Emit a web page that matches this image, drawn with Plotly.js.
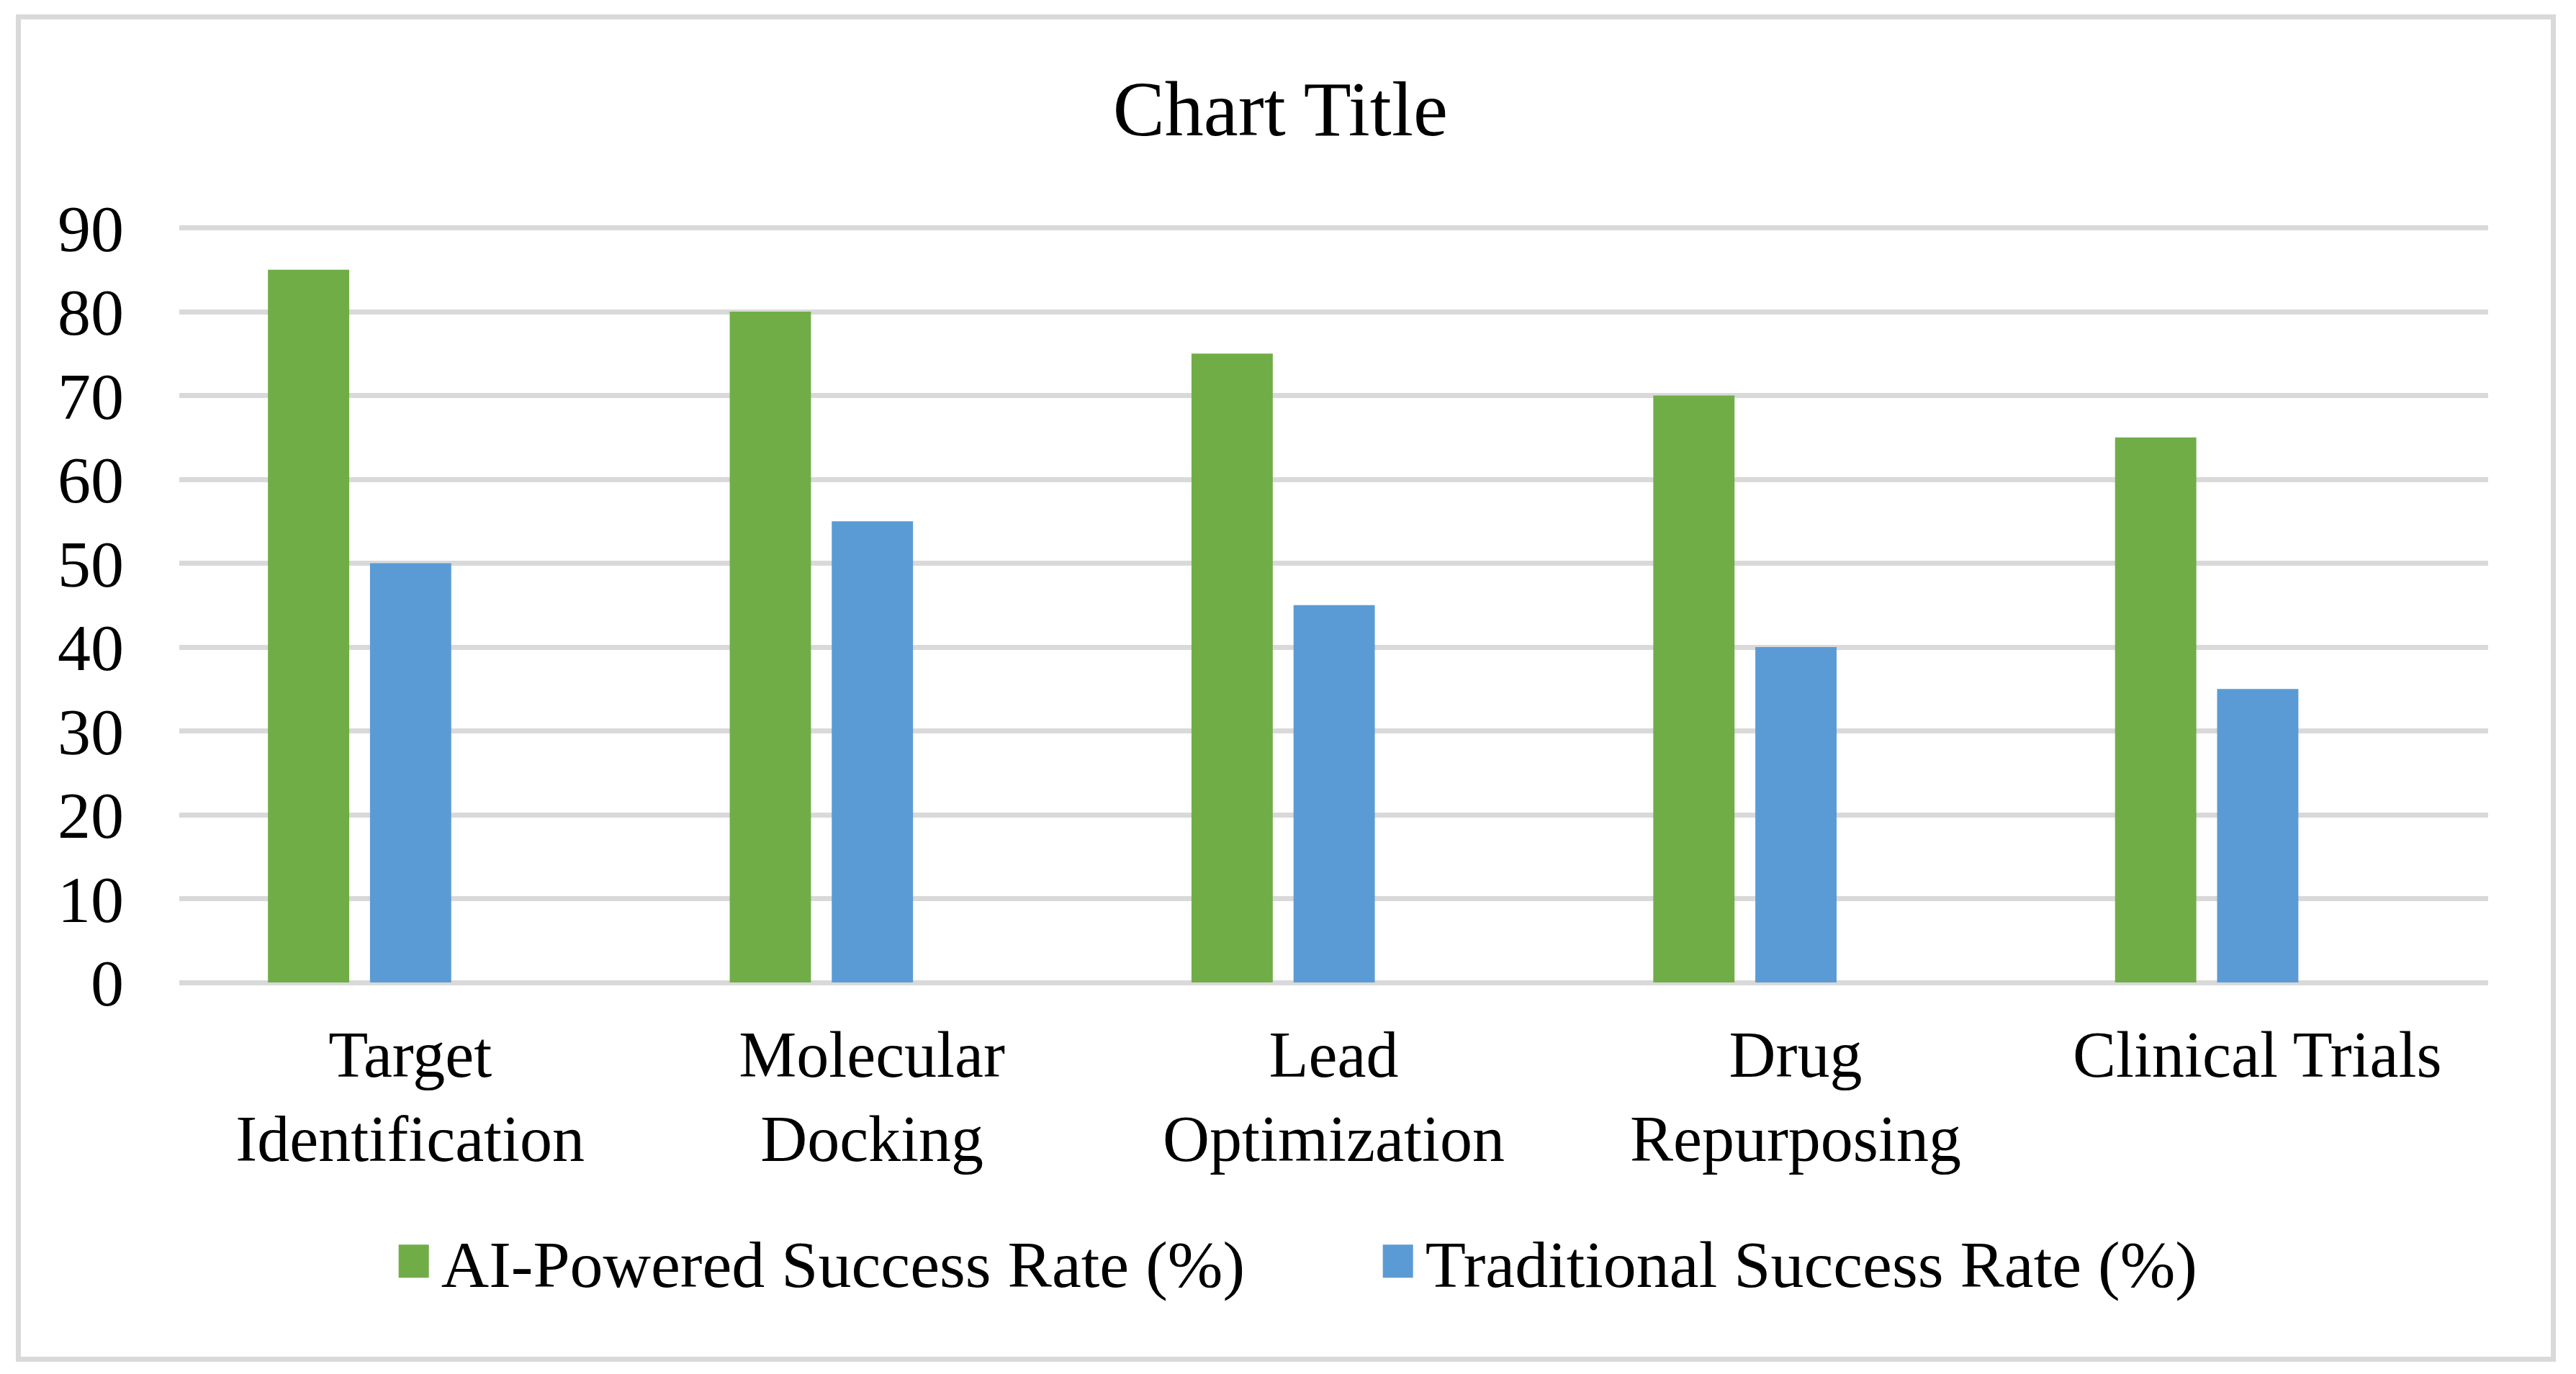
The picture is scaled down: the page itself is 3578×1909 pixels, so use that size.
<!DOCTYPE html>
<html>
<head>
<meta charset="utf-8">
<script src="https://cdn.plot.ly/plotly-3.0.1.min.js"></script>
<style>
  html, body { margin: 0; padding: 0; background: #ffffff; }
  #wrap { position: relative; width: 3578px; height: 1909px; }
  #chart { position: absolute; left: 0; top: 0; width: 3578px; height: 1909px; }
  #frame { position: absolute; left: 22px; top: 20px; width: 3514px; height: 1858px;
           border: 7px solid #d9d9d9; pointer-events: none; }
</style>
</head>
<body>
<div id="wrap">
  <div id="chart"></div>
  <div id="frame"></div>
</div>
<script>
// ---- data ----
const categories = [
  "Target<br>Identification",
  "Molecular<br>Docking",
  "Lead<br>Optimization",
  "Drug<br>Repurposing",
  "Clinical Trials"
];
const aiPowered = [85, 80, 75, 70, 65];
const traditional = [50, 55, 45, 40, 35];
const seriesNames = ["AI-Powered Success Rate (%)", "Traditional Success Rate (%)"];
const yTicks = [0, 10, 20, 30, 40, 50, 60, 70, 80, 90];

const FONT = "Liberation Serif, Times New Roman, serif";
const GREEN = "#70AD47";
const BLUE = "#5B9BD5";
const GRID = "#D9D9D9";

const traces = [
  { type: "bar", name: seriesNames[0], x: categories, y: aiPowered,
    marker: { color: GREEN }, width: 0.176, offset: -0.308, hoverinfo: "skip" },
  { type: "bar", name: seriesNames[1], x: categories, y: traditional,
    marker: { color: BLUE }, width: 0.176, offset: -0.087, hoverinfo: "skip" }
];

const layout = {
  width: 3578, height: 1909,
  paper_bgcolor: "#ffffff", plot_bgcolor: "#ffffff",
  margin: { l: 249, r: 122, t: 313, b: 544, autoexpand: false },
  font: { family: FONT, color: "#000000", size: 90 },
  title: {
    text: "Chart Title",
    font: { family: FONT, size: 108, color: "#000000" },
    x: 0.497, xref: "container", xanchor: "center",
    y: 0.9214, yref: "container", yanchor: "middle"
  },
  barmode: "group",
  showlegend: true,
  legend: {
    orientation: "h",
    xref: "container", yref: "container",
    x: 0.150, xanchor: "left",
    y: 0.082, yanchor: "middle",
    font: { family: FONT, size: 92, color: "#000000" },
    itemwidth: 66,
    entrywidth: 1286, entrywidthmode: "pixels",
    bgcolor: "rgba(0,0,0,0)", borderwidth: 0,
    traceorder: "normal"
  },
  xaxis: {
    type: "category",
    showgrid: false, zeroline: false, showline: false, ticks: "",
    tickfont: { family: FONT, size: 90, color: "#000000" },
    ticklabelstandoff: 40,
    range: [-0.5, 4.5], fixedrange: true
  },
  yaxis: {
    range: [0, 90.3], tickmode: "array", tickvals: yTicks, ticktext: yTicks.map(String),
    showgrid: true, gridcolor: GRID, gridwidth: 7,
    zeroline: true, zerolinecolor: GRID, zerolinewidth: 7,
    showline: false, ticks: "",
    tickfont: { family: FONT, size: 92, color: "#000000" },
    ticklabelstandoff: 76, fixedrange: true
  }
};

function enlargeLegendSymbols() {
  document.querySelectorAll("#chart .legend .legendpoints path").forEach(function (p) {
    p.setAttribute("d", "M21,23H-21V-23H21Z");
  });
}

const gd = document.getElementById("chart");
Plotly.newPlot(gd, traces, layout, { displayModeBar: false, staticPlot: true }).then(function () {
  enlargeLegendSymbols();
  gd.on("plotly_afterplot", enlargeLegendSymbols);
});
</script>
</body>
</html>
